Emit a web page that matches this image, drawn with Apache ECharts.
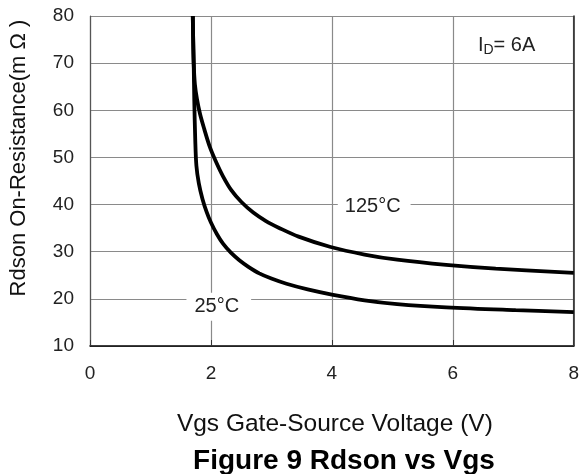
<!DOCTYPE html>
<html><head><meta charset="utf-8">
<script src="https://cdn.jsdelivr.net/npm/echarts@6/dist/echarts.min.js"></script>
<style>html,body{margin:0;padding:0;background:#fff}#c{width:582px;height:474px}</style>
</head><body><div id="c"></div>
<script>
const vgs125 = [1.70, 1.705, 1.715, 1.735, 1.77, 1.82, 1.89, 1.98, 2.08, 2.20, 2.34, 2.50, 2.70, 2.91, 3.12, 3.45, 3.98, 4.54, 5.08, 5.89, 6.71, 8.0];
const rds125 = [80, 76, 70, 65.5, 62.3, 59.2, 56.0, 52.3, 49.2, 46.0, 43.0, 40.6, 38.3, 36.5, 35.1, 33.2, 31.0, 29.4, 28.3, 27.2, 26.4, 25.5];
const vgs25 = [1.70, 1.705, 1.715, 1.725, 1.74, 1.76, 1.80, 1.86, 1.93, 2.00, 2.10, 2.20, 2.33, 2.47, 2.62, 2.80, 3.00, 3.25, 3.60, 4.00, 4.54, 5.08, 5.89, 7.04, 8.0];
const rds25 = [80, 76, 70, 62, 54, 48.2, 44.5, 41.2, 38.4, 36.2, 33.7, 31.7, 29.8, 28.2, 26.8, 25.4, 24.3, 23.2, 22.0, 20.9, 19.7, 18.9, 18.2, 17.6, 17.2];
const xTicks = [0, 2, 4, 6, 8];
const yTicks = [10, 20, 30, 40, 50, 60, 70, 80];
const labels = [
  {text: '125°C', x: 4.70, y: 39.6, pad: [4, 10, 4, 7]},
  {text: '25°C', x: 2.13, y: 18.3, pad: [4, 12, 4, 8]},
  {text: '{i|I}{s|D}{i|= 6A}', x: 7.03, y: 73.8, pad: [6, 23, 6, 6]}
];
const font = 'Liberation Sans, Arial, sans-serif';
const chart = echarts.init(document.getElementById('c'));
const toPairs = (xs, ys) => xs.map((x, i) => [x, ys[i]]);
chart.setOption({
  animation: false,
  backgroundColor: '#fff',
  title: {
    text: 'Figure 9 Rdson vs Vgs', left: 339, textAlign: 'center', top: 442,
    textStyle: {fontFamily: font, fontSize: 28, fontWeight: 'bold', color: '#000'}
  },
  grid: {left: 89, right: 3, top: 16, bottom: 128},
  xAxis: {
    type: 'value', min: xTicks[0], max: xTicks[xTicks.length - 1], interval: 2,
    name: 'Vgs Gate-Source Voltage (V)', nameLocation: 'middle', nameGap: 66,
    nameTextStyle: {fontFamily: font, fontSize: 24.5, color: '#111', padding: [0, 0, 0, 6]},
    axisLine: {lineStyle: {color: '#000', width: 1.5}},
    axisTick: {inside: true, length: 6, lineStyle: {color: '#333'}},
    axisLabel: {fontFamily: font, fontSize: 19, color: '#222', margin: 18},
    splitLine: {show: true, lineStyle: {color: '#8a8a8a', width: 1.2}}
  },
  yAxis: [{
    type: 'value', min: yTicks[0], max: yTicks[yTicks.length - 1], interval: 10,
    name: 'Rdson On-Resistance(m Ω )', nameLocation: 'middle', nameGap: 60,
    nameTextStyle: {fontFamily: font, fontSize: 22, color: '#111', padding: [0, 0, 0, 46]},
    axisLine: {show: true, lineStyle: {color: '#555', width: 1.2}},
    axisTick: {show: false},
    axisLabel: {fontFamily: font, fontSize: 19, color: '#222', margin: 16},
    splitLine: {show: true, lineStyle: {color: '#8a8a8a', width: 1.2}}
  }, {
    type: 'value', position: 'right', min: yTicks[0], max: yTicks[yTicks.length - 1], interval: 10,
    axisLine: {show: true, lineStyle: {color: '#222', width: 1.5}},
    axisTick: {show: false}, axisLabel: {show: false}, splitLine: {show: false}
  }],
  series: [{
    type: 'line', data: toPairs(vgs125, rds125), smooth: 0.35, symbol: 'none',
    lineStyle: {color: '#000', width: 3.8}, z: 5
  }, {
    type: 'line', data: toPairs(vgs25, rds25), smooth: 0.35, symbol: 'none',
    lineStyle: {color: '#000', width: 3.8}, z: 5,
    markPoint: {
      symbol: 'rect', symbolSize: 0, silent: true,
      data: labels.map(l => ({
        coord: [l.x, l.y],
        label: {
          show: true, position: 'inside', formatter: l.text,
          fontFamily: font, fontSize: 20, color: '#222',
          backgroundColor: '#fff', padding: l.pad,
          rich: {
            i: {fontFamily: font, fontSize: 20, color: '#222'},
            s: {fontFamily: font, fontSize: 14, color: '#222', verticalAlign: 'bottom', padding: [9, 0, 0, 0]}
          }
        }
      }))
    }
  }]
});
</script></body></html>
